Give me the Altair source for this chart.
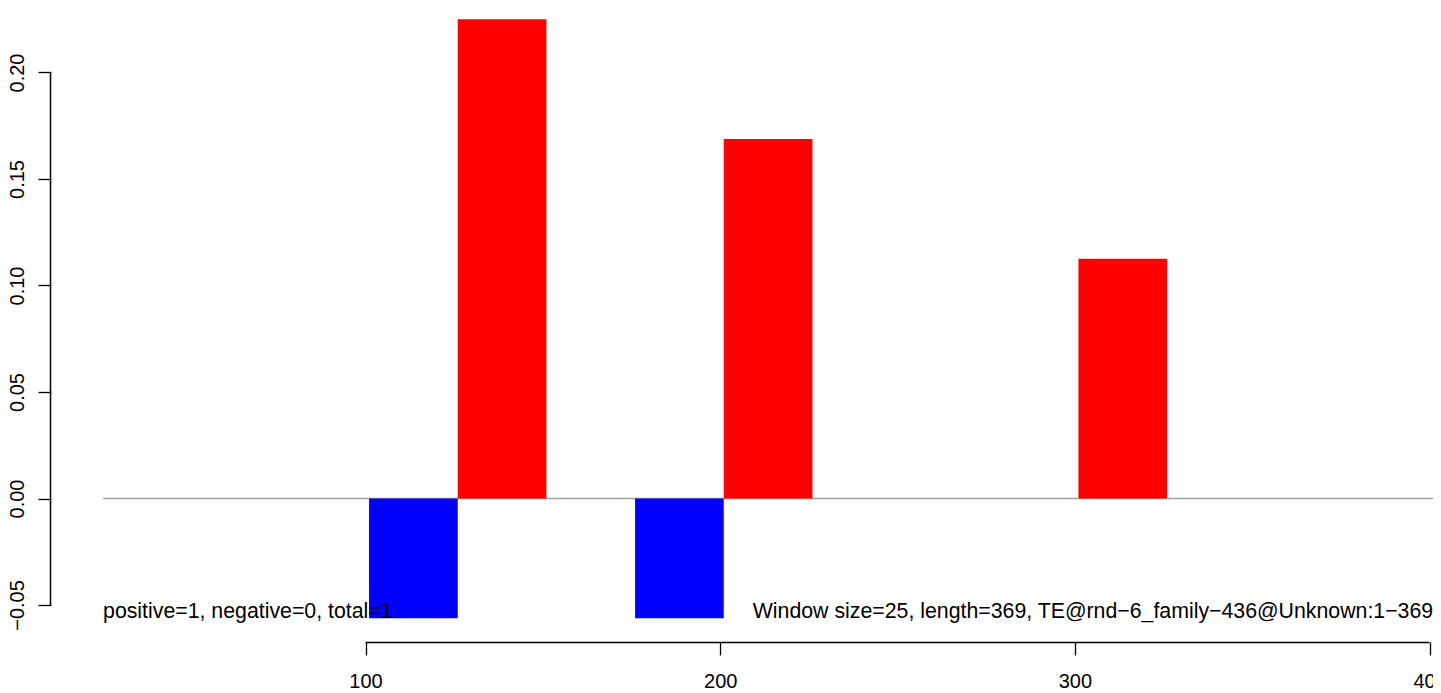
import altair as alt
import pandas as pd

# ---- data ----
bar_start = [101, 126, 176, 201, 301]
bar_end = [126, 151, 201, 226, 326]
bar_value = [-0.05625, 0.225, -0.05625, 0.16875, 0.1125]
bar_sign = ["negative", "positive", "negative", "positive", "positive"]

x_ticks = [100, 200, 300, 400]
y_ticks = [-0.05, 0.0, 0.05, 0.10, 0.15, 0.20]

baseline_x = [26, 401]
left_note = "positive=1, negative=0, total=1"
right_note = "Window size=25, length=369, TE@rnd\u22126_family\u2212436@Unknown:1\u2212369"

X_DOMAIN = [11.33, 400.96]
Y_DOMAIN = [-0.06737, 0.23028]
FONT = "Liberation Sans"
FS_AXIS = 20
FS_NOTE = 21.3

xs = alt.Scale(domain=X_DOMAIN, nice=False, zero=False)
ys = alt.Scale(domain=Y_DOMAIN, nice=False, zero=False)

bars_df = pd.DataFrame({
    "start": bar_start,
    "end": bar_end,
    "zero": [0.0] * len(bar_start),
    "value": bar_value,
    "sign": bar_sign,
})

zero_df = pd.DataFrame({"x1": [baseline_x[0]], "x2": [baseline_x[1]], "y": [0.0]})
yaxis_df = pd.DataFrame({"x": [X_DOMAIN[0]], "y1": [y_ticks[0]], "y2": [y_ticks[-1]]})
xaxis_df = pd.DataFrame({"y": [Y_DOMAIN[0]], "x1": [x_ticks[0]], "x2": [x_ticks[-1]]})
left_df = pd.DataFrame({"x": [baseline_x[0]], "y": [bar_value[0]], "t": [left_note]})
right_df = pd.DataFrame({"x": [baseline_x[1]], "y": [bar_value[0]], "t": [right_note]})

common_axis = dict(
    title=None, domain=False, grid=False, tickSize=13, tickColor="black",
    tickWidth=1.3, labelFont=FONT, labelFontSize=FS_AXIS, labelColor="black",
    labelFlush=False, labelOverlap=False,
)
x_axis = alt.Axis(values=x_ticks, format="d", labelPadding=16, **common_axis)
y_axis = alt.Axis(values=y_ticks, format=".2f", labelAngle=270,
                  labelAlign="center", labelBaseline="bottom",
                  labelPadding=11, **common_axis)

zero_line = alt.Chart(zero_df).mark_rule(color="#A0A0A0", strokeWidth=1.5).encode(
    x=alt.X("x1:Q", scale=xs, axis=x_axis),
    x2="x2:Q",
    y=alt.Y("y:Q", scale=ys, axis=y_axis),
)

bars = alt.Chart(bars_df).mark_rect().encode(
    x=alt.X("start:Q", scale=xs, axis=x_axis),
    x2="end:Q",
    y=alt.Y("zero:Q", scale=ys, axis=y_axis),
    y2="value:Q",
    color=alt.Color("sign:N",
                    scale=alt.Scale(domain=["positive", "negative"],
                                    range=["#FF0000", "#0000FF"]),
                    legend=None),
)

yaxis_line = alt.Chart(yaxis_df).mark_rule(
    color="black", strokeWidth=1.5, xOffset=-0.5
).encode(
    x=alt.X("x:Q", scale=xs, axis=x_axis),
    y=alt.Y("y1:Q", scale=ys, axis=y_axis),
    y2="y2:Q",
)

xaxis_line = alt.Chart(xaxis_df).mark_rule(
    color="black", strokeWidth=1.5, yOffset=0.5
).encode(
    x=alt.X("x1:Q", scale=xs, axis=x_axis),
    x2="x2:Q",
    y=alt.Y("y:Q", scale=ys, axis=y_axis),
)

left_text = alt.Chart(left_df).mark_text(
    align="left", baseline="alphabetic", font=FONT, fontSize=FS_NOTE, color="black"
).encode(
    x=alt.X("x:Q", scale=xs, axis=x_axis),
    y=alt.Y("y:Q", scale=ys, axis=y_axis),
    text="t:N",
)

right_text = alt.Chart(right_df).mark_text(
    align="right", baseline="alphabetic", font=FONT, fontSize=FS_NOTE, color="black"
).encode(
    x=alt.X("x:Q", scale=xs, axis=x_axis),
    y=alt.Y("y:Q", scale=ys, axis=y_axis),
    text="t:N",
)

chart = alt.layer(
    zero_line, bars, yaxis_line, xaxis_line, left_text, right_text
).properties(
    width=1382,
    height=634,
    padding={"left": 43, "top": 0, "right": 0, "bottom": 50},
    autosize=alt.AutoSizeParams(type="none"),
    background="white",
).configure_view(stroke=None)

chart.save("out.html", embed_options={"renderer": "svg", "actions": False})
